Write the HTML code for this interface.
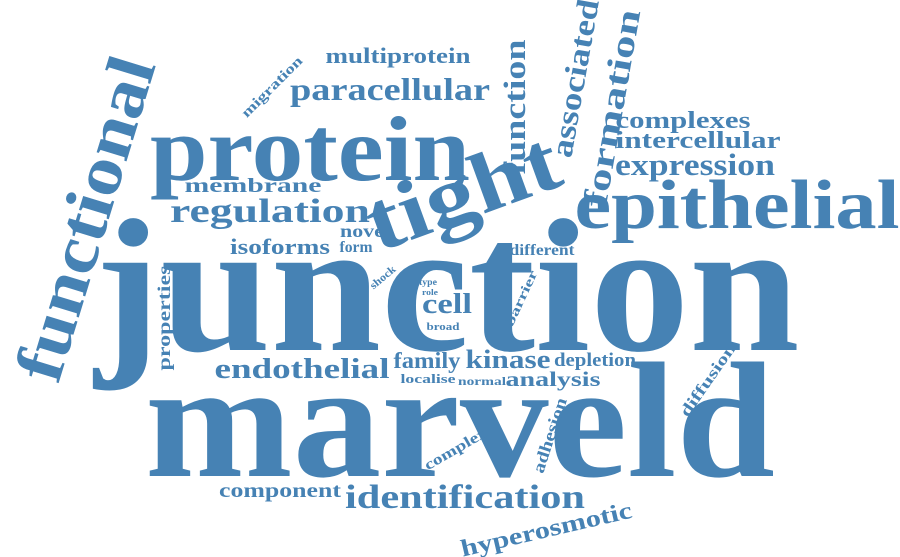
<!DOCTYPE html>
<html><head><meta charset="utf-8"><style>
html,body{margin:0;padding:0;background:#fff;}
svg{display:block;}
text{font-family:"Liberation Serif",serif;font-weight:bold;fill:#4682b4;}
</style></head>
<body>
<svg id="cloud" width="900" height="557" viewBox="0 0 900 557" xmlns="http://www.w3.org/2000/svg"></svg>
<script>
const words=["junction","marveld","protein","tight","epithelial","functional","regulation","membrane","isoforms","form","novel","paracellular","multiprotein","migration","function","associated","formation","complexes","intercellular","expression","different","shock","type","role","cell","broad","barrier","properties","endothelial","family","kinase","depletion","localise","normal","analysis","diffusion","complex","adhesion","component","identification","hyperosmotic"];
const cxs=[447,460,310,472,737,107,270,253,280,356,365,390,398,275,525,585,623,683,698,695,542,385,428,430,447,443,525,170,302,427,508,595,428,482,553,712,458,555,280,465,548];
const cys=[350,476,180,218,228,225,222,192,254,252,237,100,63,90,107,80,110,128,148,175,255,280,285,295,313,330,300,318,378,368,368,366,383,385,386,383,453,437,497,508,537];
const sizes=[190,165,92,85,70,68,34,20,22,16,18,32,22,14,31,31,34,24,24,31,16,11,9,8,29,11,13,18,29,23,26,19,13,12,21,16,15,17,20,34,24];
const widths=[705,630,320,200,325,335,200,137,100,33,50,200,145,80,135,160,200,135,165,160,65,30,18,16,50,33,60,105,175,67,85,82,55,48,95,85,70,78,122,240,175];
const rots=[0,0,0,-20,0,-73,0,0,0,0,0,0,0,-45,-90,-80,-80,0,0,0,0,-40,0,0,0,0,-65,-90,0,0,0,0,0,0,0,-55,-30,-72,0,0,-13];
const svg=document.getElementById('cloud');
for(let i=0;i<words.length;i++){
  const t=document.createElementNS('http://www.w3.org/2000/svg','text');
  t.setAttribute('x',cxs[i]);
  t.setAttribute('y',cys[i]);
  t.setAttribute('font-size',sizes[i]);
  t.setAttribute('text-anchor','middle');
  t.setAttribute('textLength',widths[i]);
  t.setAttribute('lengthAdjust','spacingAndGlyphs');
  if(rots[i]) t.setAttribute('transform','rotate('+rots[i]+' '+cxs[i]+' '+cys[i]+')');
  
  
  t.textContent=words[i];
  svg.appendChild(t);
}
</script>
</body></html>
